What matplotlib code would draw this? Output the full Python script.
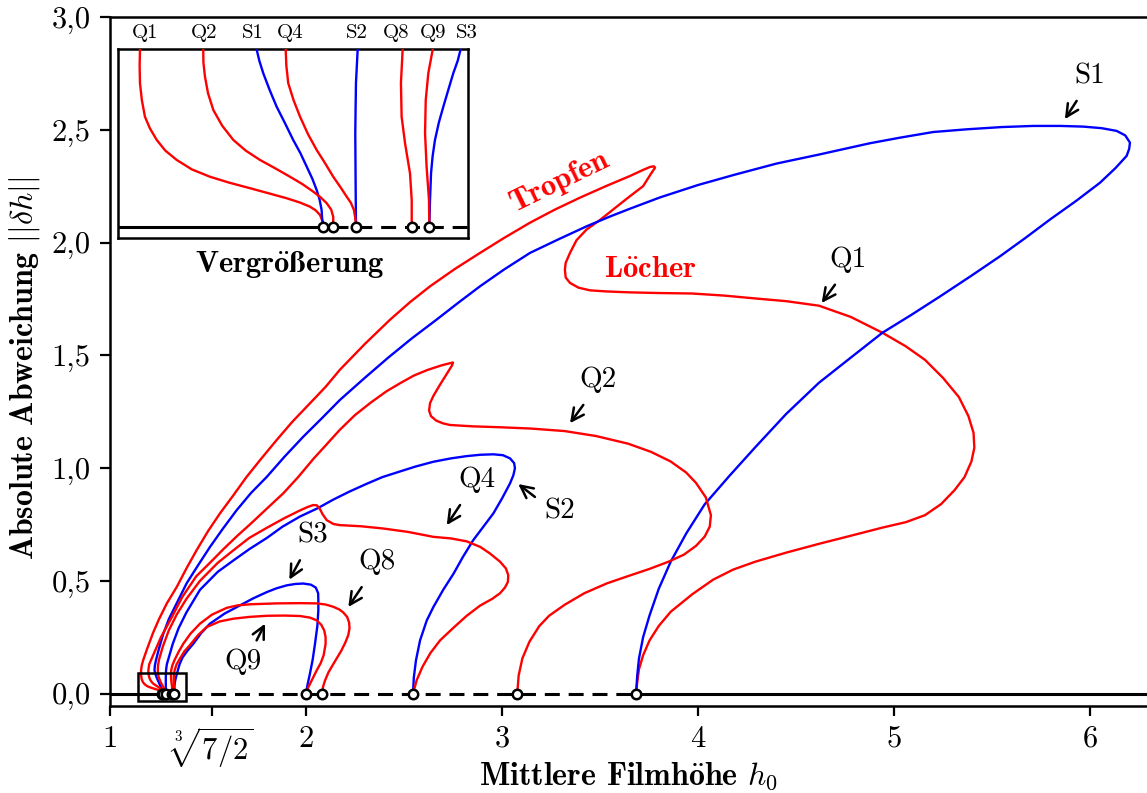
import matplotlib
matplotlib.use("Agg")
import matplotlib.pyplot as plt
from matplotlib.patches import Rectangle
import matplotlib.transforms as mtransforms

plt.rcParams['font.family'] = ['cmr10', 'DejaVu Serif']
plt.rcParams['mathtext.fontset'] = 'cm'
plt.rcParams['axes.unicode_minus'] = False
bold = ['cmb10', 'DejaVu Serif']

# bifurcation points of the flat film (h0 values)
bif_h0 = [1.2659, 1.2717, 1.285, 1.3176, 1.3279, 2.0, 2.082, 2.546, 3.078, 3.684]
flat_stable_end = 1.2717
flat_unstable_end = 3.684

# branches: mean film height h0 and norm of deviation ||dh||
Q1_h0 = [1.2659, 1.2655, 1.2640, 1.2615, 1.2581, 1.2520, 1.2445, 1.2340, 1.2230, 1.2110,
         1.1996, 1.1890, 1.1802, 1.1735, 1.1685, 1.1645, 1.1616, 1.1598, 1.1587, 1.1585,
         1.1587, 1.162, 1.17, 1.18, 1.19, 1.205, 1.22, 1.25, 1.29, 1.34, 1.39, 1.442, 1.50,
         1.561, 1.63, 1.697, 1.77, 1.85, 1.93, 2.02, 2.10, 2.173, 2.30, 2.429, 2.53, 2.633,
         2.76, 2.888, 3.01, 3.143, 3.27, 3.398, 3.53, 3.653, 3.72, 3.755, 3.775, 3.781,
         3.76, 3.72, 3.645, 3.568, 3.50, 3.432, 3.38, 3.347, 3.325, 3.321, 3.325, 3.347,
         3.39, 3.449, 3.536, 3.653, 3.806, 3.969, 4.13, 4.293, 4.45, 4.617, 4.78, 4.941,
         5.06, 5.158, 5.25, 5.331, 5.38, 5.406, 5.41, 5.395, 5.36, 5.309, 5.24, 5.158, 5.06,
         4.941, 4.78, 4.617, 4.45, 4.293, 4.18, 4.077, 3.97, 3.861, 3.80, 3.753, 3.72,
         3.699, 3.69, 3.684]
Q1_dh = [0, 0.003, 0.0068, 0.0095, 0.0117, 0.0142, 0.0166, 0.0195, 0.0225, 0.0257,
         0.0292, 0.0335, 0.039, 0.0445, 0.0507, 0.0575, 0.0643, 0.0740, 0.0839, 0.0940,
         0.1037, 0.125, 0.15, 0.175, 0.2, 0.235, 0.27, 0.33, 0.40, 0.472, 0.555, 0.636, 0.72,
         0.799, 0.88, 0.961, 1.04, 1.124, 1.205, 1.287, 1.36, 1.436, 1.55, 1.658, 1.735,
         1.806, 1.883, 1.954, 2.02, 2.088, 2.146, 2.199, 2.25, 2.295, 2.322, 2.335, 2.338,
         2.332, 2.305, 2.25, 2.2, 2.147, 2.10, 2.058, 2.01, 1.954, 1.91, 1.88, 1.845,
         1.821, 1.80, 1.788, 1.783, 1.779, 1.776, 1.774, 1.765, 1.752, 1.74, 1.72, 1.67,
         1.60, 1.54, 1.48, 1.40, 1.315, 1.23, 1.156, 1.09, 1.029, 0.96, 0.902, 0.84, 0.791,
         0.76, 0.736, 0.70, 0.664, 0.625, 0.585, 0.55, 0.505, 0.44, 0.363, 0.30, 0.236,
         0.17, 0.108, 0.05, 0]

S1_h0 = [1.2659, 1.2652, 1.2649, 1.2637, 1.262, 1.2595, 1.2562, 1.2525, 1.2483, 1.2435,
         1.2386, 1.2345, 1.2308, 1.2285, 1.2269, 1.229, 1.235, 1.25, 1.27, 1.30, 1.34,
         1.391, 1.45, 1.51, 1.575, 1.646, 1.72, 1.80, 1.89, 1.986, 2.08, 2.173, 2.30, 2.42,
         2.54, 2.666, 2.78, 2.888, 3.01, 3.143, 3.29, 3.432, 3.55, 3.653, 3.806, 4.0, 4.184,
         4.4, 4.617, 4.876, 5.031, 5.2, 5.371, 5.55, 5.711, 5.85, 5.966, 6.06, 6.136, 6.18,
         6.204, 6.20, 6.187, 6.13, 6.051, 5.93, 5.796, 5.67, 5.541, 5.39, 5.235, 5.09,
         4.941, 4.78, 4.617, 4.45, 4.293, 4.16, 4.034, 3.94, 3.861, 3.80, 3.753, 3.72,
         3.699, 3.69, 3.684]
S1_dh = [0, 0.005, 0.0098, 0.016, 0.0215, 0.028, 0.0351, 0.043, 0.0507, 0.0605,
         0.0702, 0.080, 0.0897, 0.097, 0.1037, 0.125, 0.15, 0.2, 0.26, 0.33, 0.40,
         0.489, 0.57, 0.65, 0.73, 0.813, 0.89, 0.961, 1.05, 1.139, 1.22, 1.302, 1.40, 1.49,
         1.575, 1.658, 1.735, 1.806, 1.88, 1.954, 2.015, 2.072, 2.115, 2.15, 2.20, 2.255,
         2.30, 2.35, 2.39, 2.44, 2.465, 2.49, 2.502, 2.512, 2.517, 2.517, 2.514, 2.507,
         2.495, 2.475, 2.443, 2.415, 2.384, 2.33, 2.265, 2.185, 2.102, 2.02, 1.939, 1.85,
         1.761, 1.68, 1.6, 1.49, 1.378, 1.24, 1.093, 0.965, 0.839, 0.71, 0.585, 0.465,
         0.347, 0.25, 0.156, 0.08, 0]

Q2_h0 = [1.2717, 1.2717, 1.2705, 1.2679, 1.2645, 1.2600, 1.2535, 1.2464, 1.2380, 1.2289,
         1.2205, 1.2133, 1.2068, 1.2016, 1.1985, 1.1967, 1.1958, 1.1957, 1.20, 1.21, 1.235,
         1.26, 1.31, 1.37, 1.44, 1.51, 1.578, 1.65, 1.714, 1.80, 1.884, 1.96, 2.037, 2.10,
         2.173, 2.25, 2.33, 2.41, 2.48, 2.55, 2.62, 2.69, 2.735, 2.75, 2.745, 2.72, 2.684,
         2.65, 2.633, 2.628, 2.638, 2.665, 2.70, 2.735, 2.85, 2.99, 3.15, 3.32, 3.48, 3.644,
         3.76, 3.861, 3.94, 3.99, 4.04, 4.066, 4.06, 4.034, 3.99, 3.928, 3.85, 3.753, 3.64,
         3.536, 3.42, 3.32, 3.24, 3.19, 3.14, 3.104, 3.085, 3.078]
Q2_dh = [0, 0.0058, 0.010, 0.0137, 0.017, 0.0205, 0.025, 0.0292, 0.034, 0.039,
         0.0445, 0.0507, 0.059, 0.0682, 0.078, 0.0877, 0.096, 0.1037, 0.13, 0.15, 0.2,
         0.25, 0.33, 0.43, 0.52, 0.58, 0.64, 0.70, 0.75, 0.82, 0.888, 0.96, 1.04, 1.10,
         1.17, 1.235, 1.29, 1.34, 1.376, 1.41, 1.435, 1.455, 1.465, 1.468, 1.455, 1.42, 1.37,
         1.32, 1.288, 1.255, 1.23, 1.21, 1.198, 1.191, 1.185, 1.181, 1.175, 1.164, 1.142,
         1.108, 1.072, 1.029, 0.98, 0.934, 0.87, 0.791, 0.74, 0.696, 0.655, 0.616, 0.585,
         0.553, 0.52, 0.489, 0.445, 0.394, 0.345, 0.299, 0.23, 0.156, 0.08, 0]

S2_h0 = [1.285, 1.2849, 1.2848, 1.2846, 1.2848, 1.285, 1.286, 1.29, 1.30, 1.32, 1.35, 1.39,
         1.459, 1.55, 1.629, 1.71, 1.8, 1.88, 1.969, 2.06, 2.139, 2.22, 2.309, 2.39, 2.48,
         2.56, 2.65, 2.74, 2.82, 2.89, 2.956, 3.005, 3.041, 3.062, 3.066, 3.058, 3.041, 3.0,
         2.956, 2.905, 2.853, 2.80, 2.753, 2.70, 2.65, 2.616, 2.582, 2.561, 2.55, 2.546]
S2_dh = [0, 0.0127, 0.0254, 0.0546, 0.07, 0.0839, 0.1037, 0.13, 0.16, 0.22, 0.29, 0.36,
         0.46, 0.54, 0.59, 0.64, 0.69, 0.74, 0.785, 0.822, 0.86, 0.895, 0.93, 0.96, 0.985,
         1.007, 1.028, 1.043, 1.053, 1.059, 1.061, 1.057, 1.043, 1.022, 0.999, 0.968, 0.932,
         0.865, 0.799, 0.74, 0.68, 0.605, 0.532, 0.46, 0.384, 0.324, 0.236, 0.147, 0.07, 0]

Q4_h0 = [1.285, 1.2846, 1.2838, 1.282, 1.2796, 1.276, 1.2717, 1.267, 1.262, 1.257, 1.2523,
         1.2485, 1.2454, 1.2443, 1.2439, 1.245, 1.25, 1.27, 1.30, 1.34, 1.39, 1.459, 1.55,
         1.629, 1.71, 1.8, 1.89, 1.969, 2.01, 2.037, 2.055, 2.07, 2.085, 2.106, 2.14, 2.173,
         2.28, 2.394, 2.52, 2.65, 2.74, 2.82, 2.89, 2.939, 2.99, 3.02, 3.032, 3.03, 3.015,
         2.99, 2.95, 2.888, 2.82, 2.75, 2.684, 2.635, 2.595, 2.565, 2.546]
Q4_dh = [0, 0.005, 0.0098, 0.014, 0.0175, 0.023, 0.0292, 0.037, 0.0449, 0.054, 0.0643,
         0.074, 0.0839, 0.094, 0.1037, 0.125, 0.15, 0.21, 0.28, 0.35, 0.42, 0.50, 0.58,
         0.635, 0.69, 0.735, 0.778, 0.812, 0.828, 0.836, 0.835, 0.82, 0.795, 0.769, 0.752,
         0.747, 0.742, 0.732, 0.717, 0.695, 0.688, 0.675, 0.65, 0.621, 0.585, 0.555, 0.525,
         0.495, 0.47, 0.445, 0.42, 0.39, 0.345, 0.29, 0.236, 0.18, 0.12, 0.06, 0]

S3_h0 = [1.3279, 1.3281, 1.3283, 1.3289, 1.3298, 1.3312, 1.3335, 1.3361, 1.339, 1.3419,
         1.3445, 1.3462, 1.355, 1.37, 1.395, 1.425, 1.465, 1.51, 1.585, 1.663, 1.73, 1.8,
         1.85, 1.902, 1.945, 1.986, 2.025, 2.05, 2.062, 2.063, 2.063, 2.058, 2.046, 2.034,
         2.02, 2.008, 2.0]
S3_dh = [0, 0.008, 0.0156, 0.0312, 0.041, 0.0507, 0.061, 0.0702, 0.080, 0.0897,
         0.097, 0.1037, 0.13, 0.16, 0.19, 0.221, 0.268, 0.31, 0.355, 0.391, 0.422, 0.45,
         0.467, 0.48, 0.486, 0.488, 0.483, 0.47, 0.445, 0.413, 0.369, 0.30, 0.221, 0.15,
         0.088, 0.04, 0]

Q8_h0 = [1.3176, 1.3176, 1.3166, 1.3137, 1.3117, 1.3113, 1.3123, 1.318, 1.33, 1.35, 1.374,
         1.41, 1.459, 1.52, 1.595, 1.65, 1.714, 1.85, 1.969, 2.054, 2.10, 2.139, 2.17, 2.19,
         2.21, 2.22, 2.222, 2.216, 2.2, 2.18, 2.14, 2.115, 2.097, 2.087, 2.082]
Q8_dh = [0, 0.0156, 0.0312, 0.0488, 0.0643, 0.0839, 0.1037, 0.125, 0.15, 0.185, 0.221,
         0.265, 0.31, 0.35, 0.38, 0.391, 0.396, 0.4, 0.401, 0.4, 0.395, 0.385, 0.373, 0.36,
         0.34, 0.315, 0.29, 0.26, 0.225, 0.19, 0.132, 0.095, 0.058, 0.03, 0]

Q9_h0 = [1.3279, 1.3277, 1.3263, 1.3254, 1.3258, 1.3273, 1.3299, 1.34, 1.36, 1.38, 1.408,
         1.45, 1.493, 1.56, 1.629, 1.71, 1.8, 1.89, 1.969, 2.02, 2.054, 2.078, 2.093, 2.10,
         2.10, 2.09, 2.075, 2.054, 2.03, 2.012, 2.0]
Q9_dh = [0, 0.0156, 0.0351, 0.0546, 0.074, 0.0897, 0.1037, 0.13, 0.16, 0.188, 0.215,
         0.26, 0.295, 0.32, 0.332, 0.34, 0.345, 0.346, 0.344, 0.337, 0.325, 0.305, 0.28,
         0.25, 0.22, 0.17, 0.135, 0.102, 0.06, 0.028, 0]

branches = [(Q1_h0, Q1_dh, 'red'), (S1_h0, S1_dh, 'blue'), (Q2_h0, Q2_dh, 'red'),
            (S2_h0, S2_dh, 'blue'), (Q4_h0, Q4_dh, 'red'), (S3_h0, S3_dh, 'blue'),
            (Q8_h0, Q8_dh, 'red'), (Q9_h0, Q9_dh, 'red')]

# branch labels: text position, arrow tail, arrow head
labels = ['S1', 'Q1', 'Q2', 'S2', 'Q4', 'S3', 'Q8', 'Q9']
label_xy = [(6.0, 2.739), (4.767, 1.924), (3.491, 1.391), (3.296, 0.806),
            (2.871, 0.947), (2.037, 0.702), (2.361, 0.584), (1.68, 0.139)]
arrow_tail = [(5.932, 2.628), (4.699, 1.813), (3.415, 1.28), (3.168, 0.872),
              (2.786, 0.836), (1.969, 0.591), (2.284, 0.472), (1.748, 0.236)]
arrow_head = [(5.872, 2.547), (4.631, 1.732), (3.347, 1.199), (3.083, 0.929),
              (2.718, 0.747), (1.915, 0.505), (2.216, 0.384), (1.791, 0.31)]

# inset labels along the top edge
inset_labels = ['Q1', 'Q2', 'S1', 'Q4', 'S2', 'Q8', 'Q9', 'S3']
inset_label_h0 = [1.1617, 1.1961, 1.2246, 1.2464, 1.2856, 1.3084, 1.3300, 1.3497]

xticks = [1, (7 / 2) ** (1 / 3), 2, 3, 4, 5, 6]
xticklabels = ['1', r'$\sqrt[3]{7/2}$', '2', '3', '4', '5', '6']
yticks = [0, 0.5, 1.0, 1.5, 2.0, 2.5, 3.0]
yticklabels = ['0,0', '0,5', '1,0', '1,5', '2,0', '2,5', '3,0']

lw_curve = 0.85
dash = (0, (4.9, 2.9))
oe = r'$\ddot{\mathbf{o}}$'


def draw_flat(a, x_left, x_right):
    a.plot([x_left, flat_stable_end], [0, 0], color='k', lw=1.1, zorder=2)
    a.plot([flat_stable_end, flat_unstable_end], [0, 0], color='k', lw=1.1, ls=dash, zorder=2)
    a.plot([flat_unstable_end, x_right], [0, 0], color='k', lw=1.1, zorder=2)
    for h, d, c in branches:
        a.plot(h, d, color=c, lw=lw_curve, zorder=3)
    a.plot(bif_h0, [0] * len(bif_h0), 'o', mfc='white', mec='k', ms=3.4, mew=0.9, zorder=5)


fig = plt.figure(figsize=(5.735, 3.965), dpi=200)
ax = fig.add_axes([110 / 1147, 87 / 793, 1037 / 1147, 689 / 793])
draw_flat(ax, 1.0, 6.4)
ax.set_xlim(1.0, 6.291)
ax.set_ylim(-0.055, 3.0)

ax.set_xticks(xticks)
ax.set_xticklabels(xticklabels)
ax.set_yticks(yticks)
ax.set_yticklabels(yticklabels)
ax.tick_params(labelsize=11, width=0.8, length=3.5, direction='out')
for s in ['left', 'bottom', 'top']:
    ax.spines[s].set_linewidth(0.9)
ax.spines['right'].set_visible(False)

ax.set_xlabel('Mittlere Filmh' + r'$\ddot{\mathbf{o}}$' + 'he $h_0$', family=bold, fontsize=11.5)
ax.xaxis.set_label_coords(0.5, -0.079)
ax.set_ylabel(r'Absolute Abweichung $||\delta h||$', family=bold, fontsize=11.5)
ax.yaxis.set_label_coords(-0.066, 0.49)

for t, p, tail, head in zip(labels, label_xy, arrow_tail, arrow_head):
    ax.text(p[0], p[1], t, fontsize=10.5, ha='center', va='center')
    ax.annotate('', xy=head, xytext=tail,
                arrowprops=dict(arrowstyle='->', lw=0.9, color='k', mutation_scale=11,
                                shrinkA=0, shrinkB=0))

ax.text(3.296, 2.272, 'Tropfen', family=bold, fontsize=11, color='red',
        rotation=26, ha='center', va='center')
ax.text(3.759, 1.88, 'L' + oe + 'cher', family=bold, fontsize=11, color='red',
        ha='center', va='center')

# marks the zoomed region near the first bifurcations
ax.add_patch(Rectangle((1.144, -0.034), 0.242, 0.126, fill=False, ec='k', lw=0.9, zorder=6))

# zoomed inset
axins = fig.add_axes([0.1031, 0.6995, 0.3046, 0.2383])
draw_flat(axins, 1.1, 1.4)
axins.set_xlim(1.146, 1.3503)
axins.set_ylim(-0.0068, 0.1037)
axins.set_xticks([])
axins.set_yticks([])
for s in axins.spines.values():
    s.set_linewidth(0.9)
trans = mtransforms.blended_transform_factory(axins.transData, axins.transAxes)
for t, h in zip(inset_labels, inset_label_h0):
    axins.text(h, 1.085, t, transform=trans, fontsize=7.5, ha='center', va='center')
axins.text(0.491, -0.141, 'Vergr' + r'$\ddot{\mathbf{o}}\mathbf{\ss}$' + 'erung',
           transform=axins.transAxes, family=bold, fontsize=11, ha='center', va='center')

fig.savefig('out.png', dpi=200, facecolor='white')
